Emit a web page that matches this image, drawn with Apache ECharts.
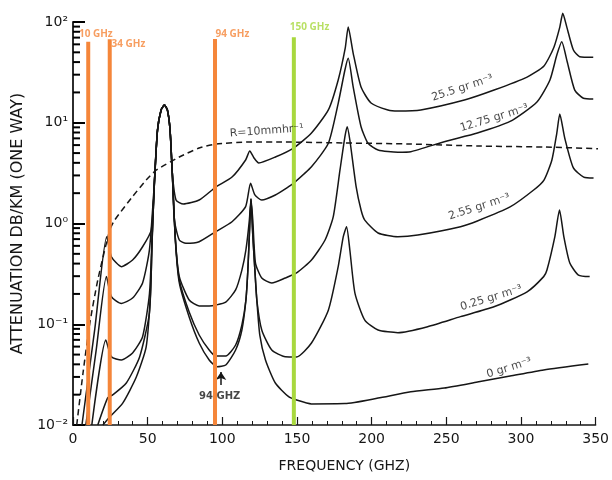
<!DOCTYPE html>
<html><head><meta charset="utf-8">
<script src="https://cdn.jsdelivr.net/npm/echarts@6/dist/echarts.min.js"></script>
<style>html,body{margin:0;padding:0;background:#fff}#c{width:612px;height:480px}</style>
</head><body><div id="c"></div>
<script>
// ---- data (frequency GHz, attenuation dB/km) ----
const peak60 = [[54.6,2.70],[56.6,8.47],[59.0,13.4],[61.2,15.0],[63.2,13.4],[65.0,8.47],[66.5,3.17]];

const wv255 = [[6.0,0.01],[14.6,0.09],[22.6,0.74],[25.7,0.468],[32.4,0.373],[39.9,0.434],[46.6,0.588],[52.4,0.86]]
  .concat(peak60).concat([[69.0,1.71],[73.9,1.56],[84.5,1.71],[95.6,2.30],[106.5,2.89],[115.6,4.27],[118.4,5.24],[121.1,4.5],[124.4,3.99],[135.5,4.57],[147.7,5.61],[159.7,7.91],[171.0,13.4],[177.6,26.6],[182.3,55],[184.3,89],[187.6,49.2],[192.9,22.6],[199.6,15.7],[210.9,13.4],[217.6,13.1],[232.9,13.4],[262.1,16.8],[282,21.1],[304.1,28.4],[315.4,36.6],[322,55.9],[326,89],[328,122],[330.7,89],[335.1,52.7],[339.3,45.3],[348.4,44.7]]);

const wv1275 = [[8.6,0.01],[15.5,0.055],[22.4,0.297],[25.7,0.188],[32.4,0.161],[39.9,0.182],[46.6,0.257],[51.2,0.55]]
  .concat(peak60).concat([[67.9,1.08],[71.2,0.686],[75.6,0.636],[84.5,0.66],[95.6,0.83],[106.5,1.04],[115.6,1.47],[118.9,2.51],[121.8,1.92],[126.4,1.71],[135.5,1.92],[144.4,2.32],[147.7,2.51],[159.7,3.66],[171,6.25],[177.6,15.6],[182.1,33.4],[184.3,43.6],[187.6,22.8],[192.9,9.14],[197.6,6.25],[204.3,5.37],[217.6,5.1],[226.2,5.16],[248.6,6.49],[270.8,7.91],[292.7,10.3],[310.7,16.1],[319.4,26.6],[324,47],[327.3,63.7],[331,40.1],[336,21.1],[341.8,17.5],[348.4,17.2]]);

const wv255s = [[12.6,0.01],[22.0,0.0698],[25.7,0.0476],[32.4,0.0442],[39.9,0.0519],[46.6,0.0752],[51.2,0.20],[53.0,0.75]]
  .concat(peak60).concat([[68.6,0.686],[71.2,0.297],[77.8,0.174],[84.5,0.152],[91.2,0.152],[95.6,0.155],[102.3,0.166],[108.9,0.219],[113.1,0.345],[115.8,0.546],[118.1,1.08],[119.2,1.75],[120.4,1.08],[122.2,0.405],[126.4,0.288],[133.1,0.257],[142.2,0.288],[149.7,0.323],[159.7,0.434],[168.8,0.686],[174.3,1.17],[178.8,3.40],[182.1,7.27],[183.6,9.14],[185.4,6.74],[189.6,2.32],[192.9,1.36],[195.4,1.08],[204.3,0.805],[217.6,0.74],[230.9,0.769],[259.5,0.93],[270.8,1.06],[292.7,1.46],[308.5,2.15],[315.4,2.70],[320.7,4.27],[324,7.91],[326,12.2],[329.3,7.06],[335.1,3.56],[342,2.89],[348.6,2.83]]);

const wv025 = [[16.6,0.01],[23.3,0.0187],[26.6,0.0199],[35.7,0.0261],[44.6,0.0474],[51.2,0.13],[53.0,0.70]]
  .concat(peak60).concat([[68.6,0.686],[71.2,0.275],[77.8,0.132],[84.5,0.0782],[91.2,0.0555],[95.6,0.0484],[102.3,0.0484],[108.9,0.0622],[113.1,0.0983],[115.8,0.174],[117.1,0.345],[118.1,0.77],[119.2,1.75],[120.4,0.77],[121.8,0.345],[123.1,0.174],[126.4,0.0877],[133.1,0.0555],[142.2,0.0476],[149.7,0.0474],[159.7,0.0652],[171,0.138],[177.6,0.373],[181,0.74],[183.2,0.93],[185.4,0.546],[188.8,0.204],[195.4,0.110],[204.3,0.0877],[217.6,0.0825],[237.5,0.0946],[259.5,0.119],[281.9,0.149],[304.1,0.21],[315.2,0.297],[317.4,0.345],[322.7,0.74],[325.8,1.36],[328.7,0.74],[332.7,0.405],[338.5,0.308],[346,0.297]]);

const wv0 = [[20,0.01],[24.6,0.012],[33.3,0.0165],[42.4,0.0299],[49,0.0597],[51.9,0.2],[53.0,0.68]]
  .concat(peak60).concat([[68.6,0.66],[71.2,0.257],[77.8,0.118],[84.5,0.0652],[91.2,0.0442],[96.5,0.0378],[102.3,0.0394],[108.9,0.0555],[113.1,0.0877],[115.8,0.174],[117.1,0.345],[118.1,0.77],[119.2,1.75],[120.4,0.77],[121.8,0.345],[123.1,0.174],[125.1,0.078],[128.9,0.0442],[135.5,0.0261],[144.4,0.0191],[149.7,0.0177],[159.7,0.0162],[182.1,0.0163],[204.3,0.0185],[226.2,0.0214],[248.6,0.0233],[270.8,0.0267],[292.7,0.0306],[315.2,0.0352],[345.1,0.0403]]);

const rain10 = [[2.5,0.01],[6.7,0.0328],[11.3,0.103],[16.6,0.275],[24.6,0.86],[27.9,1.08],[39.1,1.79],[49,2.70],[55.9,3.40],[71.2,4.57],[84.5,5.61],[95.8,6.15],[117.8,6.44],[139.7,6.44],[182.3,6.3],[226.2,6.15],[270.8,5.88],[315.4,5.74],[357.3,5.49]];

// coloured frequency markers
const bandFreq = [10.2, 24.6, 95.1, 147.9];
const bandTop = [63.7, 67.3, 67.8, 70.5];
const bandText = ['10 GHz', '34 GHz', '94 GHz', '150 GHz'];
const bandTextX = [15.3, 37.1, 106.8, 158.4];
const bandTextY = [76.0, 60.5, 76.0, 89.2];

// curve labels
const annText = ['25.5 gr m⁻³', '12.75 gr m⁻³', '2.55 gr m⁻³', '0.25 gr m⁻³', '0 gr m⁻³', 'R=10mmhr⁻¹', '94 GHZ'];
const annX = [260.8, 282.1, 272.1, 280.1, 292.1, 129.7, 98.2];
const annY = [22.1, 11.1, 1.46, 0.182, 0.0368, 8.28, 0.0193];
const annRot = [18, 17, 18, 17, 17, 4, 0];

// 94 GHz arrow
const arrowX = 99.1, arrowFrom = 0.0249, arrowTo = 0.0335;

// axis ticks
const yTickValues = [0.01, 0.1, 1, 10, 100];
const yTickText = ['10⁻²', '10⁻¹', '10⁰', '10¹', '10²'];
const decadeStarts = [0.01, 0.1, 1, 10];
const minorMult = [2, 3, 4, 5, 6, 7, 8, 9];

// ---- chart ----
const FONT = 'DejaVu Sans';
const INK = '#161616';
const ORANGE = '#F5863A';
const GREEN = '#A8D83E';
const bandColors = [ORANGE, ORANGE, ORANGE, GREEN];

const yMinorValues = [];
decadeStarts.forEach(d => minorMult.forEach(m => yMinorValues.push(+(d * m).toPrecision(3))));

function curve(name, data, dashed) {
  return {
    type: 'line', name: name, data: data, showSymbol: false, symbol: 'none',
    smooth: 0.2, clip: false, z: 3, silent: true,
    lineStyle: { color: INK, width: 1.5, type: dashed ? [6, 4] : 'solid' }
  };
}

const series = [];

// minor ticks of the log axis (2..9 in each decade), drawn first
series.push({
  type: 'custom', clip: false, z: 8,
  data: yMinorValues.map(v => [0, v]), encode: { x: 0, y: 1 },
  renderItem: function (params, api) {
    const p = api.coord([api.value(0), api.value(1)]);
    return { type: 'line', shape: { x1: p[0], y1: p[1], x2: p[0] + 7, y2: p[1] },
      style: { stroke: '#000000', lineWidth: 2 } };
  }
});

series.push(curve('25.5', wv255), curve('12.75', wv1275), curve('2.55', wv255s),
  curve('0.25', wv025), curve('0', wv0), curve('rain', rain10, true));

bandFreq.forEach((f, i) => {
  series.push({
    type: 'line', data: [[f, 0.01], [f, bandTop[i]]], showSymbol: false, symbol: 'none',
    z: 5, silent: true, lineStyle: { color: bandColors[i], width: 4 }
  });
});

series.push({
  type: 'scatter', z: 6, silent: true, symbol: 'circle', symbolSize: 1,
  itemStyle: { color: 'transparent' },
  data: bandText.map((t, i) => ({
    value: [bandTextX[i], bandTextY[i]],
    label: { show: true, position: 'inside', formatter: t, color: bandColors[i],
      fontFamily: 'Open Sans', fontWeight: 'bold', fontSize: 10 }
  }))
});

series.push({
  type: 'scatter', z: 6, silent: true, symbol: 'circle', symbolSize: 1,
  itemStyle: { color: 'transparent' },
  data: annText.map((t, i) => ({
    value: [annX[i], annY[i]],
    label: { show: true, position: 'inside', formatter: t, rotate: annRot[i], color: INK,
      fontFamily: FONT, fontSize: i === 6 ? 10 : 11, fontWeight: i === 6 ? 'bold' : 'normal' }
  }))
});

// 94 GHz arrow
series.push({
  type: 'line', data: [], silent: true,
  markLine: {
    silent: true, animation: false, symbol: ['none', 'arrow'], symbolSize: 8,
    lineStyle: { color: INK, width: 1.5, type: 'solid' }, label: { show: false },
    data: [[{ coord: [arrowX, arrowFrom] }, { coord: [arrowX, arrowTo] }]]
  }
});

const chart = echarts.init(document.getElementById('c'));
chart.setOption({
  animation: false,
  backgroundColor: '#ffffff',
  grid: { left: 73, right: 13, top: 22, bottom: 55 },
  xAxis: {
    type: 'value', min: 0, max: 350, interval: 50,
    axisLine: { show: true, onZero: false, lineStyle: { color: INK, width: 1.5 } },
    axisTick: { show: true, inside: true, length: 8, lineStyle: { color: INK, width: 1.2 } },
    minorTick: { show: true, splitNumber: 5, length: 4, lineStyle: { color: INK, width: 1 } },
    splitLine: { show: false },
    axisLabel: { color: INK, fontSize: 14, fontFamily: FONT, margin: 7 },
    name: 'FREQUENCY (GHZ)', nameLocation: 'middle', nameGap: 34,
    nameTextStyle: { color: INK, fontSize: 14, fontFamily: FONT, padding: [0, 0, 0, 20] }
  },
  yAxis: {
    type: 'log', logBase: 10, min: 0.01, max: 100,
    axisLine: { show: true, onZero: false, lineStyle: { color: INK, width: 1.8 } },
    axisTick: { show: true, inside: true, length: 12, lineStyle: { color: '#000000', width: 2 } },
    splitLine: { show: false },
    axisLabel: { color: INK, fontSize: 14, fontFamily: FONT, margin: 5,
      formatter: v => { const k = yTickValues.findIndex(t => Math.abs(t - v) / t < 1e-6); return k >= 0 ? yTickText[k] : ''; } },
    name: 'ATTENUATION DB/KM (ONE WAY)', nameLocation: 'middle', nameGap: 42,
    nameTextStyle: { color: INK, fontSize: 16, fontFamily: FONT }
  },
  series: series
});
</script>
</body></html>
